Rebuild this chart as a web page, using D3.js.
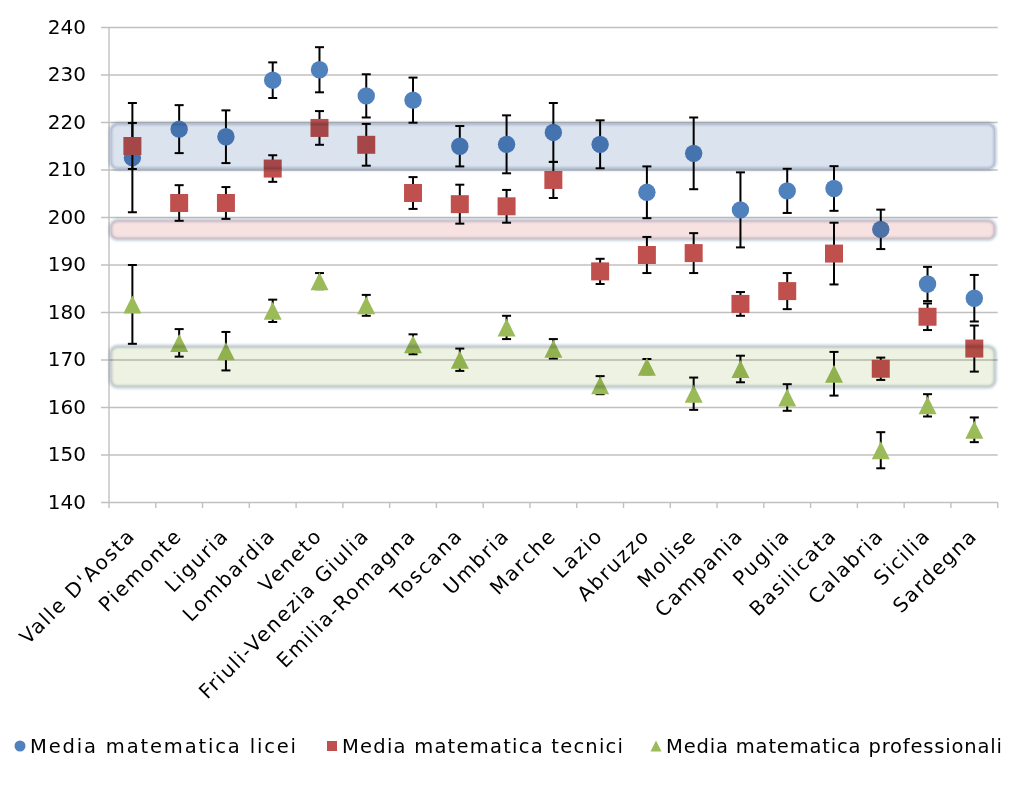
<!DOCTYPE html>
<html><head><meta charset="utf-8">
<script src="https://cdn.jsdelivr.net/npm/d3@7"></script>
<style>
body{margin:0;background:#fff;}
svg{display:block;font-family:"DejaVu Sans",sans-serif;}
</style></head>
<body><svg id="c" width="1024" height="800"></svg>
<script>
const categories = ["Valle D'Aosta","Piemonte","Liguria","Lombardia","Veneto","Friuli-Venezia Giulia","Emilia-Romagna","Toscana","Umbria","Marche","Lazio","Abruzzo","Molise","Campania","Puglia","Basilicata","Calabria","Sicilia","Sardegna"];
const seriesNames = ["Media matematica licei","Media matematica tecnici","Media matematica professionali"];
const licei    = [212.5,218.5,216.9,228.8,231.0,225.5,224.6,214.9,215.3,217.8,215.3,205.2,213.4,201.5,205.5,206.0,197.4,185.9,182.9];
const liceiErr = [11.5,5.05,5.55,3.75,4.75,4.55,4.75,4.25,6.1,6.2,5.05,5.45,7.55,7.9,4.65,4.7,4.15,3.6,4.9];
const tecnici    = [214.95,202.95,202.95,210.2,218.75,215.2,205.05,202.7,202.25,207.8,188.55,192.0,192.4,181.7,184.4,192.3,168.05,179.0,172.3];
const tecniciErr = [4.85,3.75,3.35,2.8,3.55,4.4,3.35,4.1,3.45,3.8,2.65,3.8,4.2,2.5,3.8,6.5,2.35,2.8,4.85];
const prof    = [181.6,173.5,171.75,180.25,186.5,181.4,173.2,169.95,176.75,172.25,164.6,168.5,162.8,168.0,162.0,167.0,150.9,160.35,155.2];
const profErr = [8.3,2.9,4.05,2.35,1.7,2.2,2.1,2.35,2.45,2.05,1.9,1.6,3.4,2.8,2.8,4.6,3.8,2.35,2.6];
const yTicks = [140,150,160,170,180,190,200,210,220,230,240];
const bands = [{lo:210.1,hi:219.7,fill:"#dbe3ee"},{lo:195.3,hi:199.3,fill:"#f7e1e1"},{lo:164.2,hi:172.8,fill:"#eef2e2"}];
const colors = ["#4f81bd","#c0504d","#9bbb59"];

const svg = d3.select("#c");
const L=109, R=997.7, T=27, B=502;
const x = d3.scaleBand().domain(categories).range([L,R]);
const y = d3.scaleLinear().domain([140,240]).range([B,T]);

// gridlines + y labels
const ya = svg.append("g").attr("transform",`translate(${L},0)`)
  .call(d3.axisLeft(y).tickValues(yTicks).tickSize(-(R-L)).tickSizeOuter(0).tickPadding(23));
ya.select(".domain").remove();
ya.selectAll(".tick line").attr("stroke","#c0c0c0").attr("stroke-width",1.4).attr("x1",-8);
ya.selectAll(".tick text").attr("font-size",20).attr("fill","#000").attr("font-family","DejaVu Sans");
// vertical axis line
svg.append("line").attr("x1",L).attr("x2",L).attr("y1",T).attr("y2",B).attr("stroke","#c0c0c0").attr("stroke-width",1.4);
// category tick marks
const xa = svg.append("g").attr("transform",`translate(0,${B})`);
const bounds = categories.map(c=>x(c)).concat([R]);
xa.selectAll("line").data(bounds).join("line")
  .attr("x1",d=>d).attr("x2",d=>d).attr("y1",0).attr("y2",6).attr("stroke","#c0c0c0").attr("stroke-width",1.4);
xa.selectAll("text").data(categories).join("text")
  .attr("transform",d=>`translate(${x(d)+x.bandwidth()/2+4},35) rotate(-45)`)
  .attr("text-anchor","end").attr("font-size",20).attr("letter-spacing",1.7).attr("fill","#000").text(d=>d);

// series
const half = x.bandwidth()/2;
const series = [
  {v:licei,e:liceiErr,shape:"circle"},
  {v:tecnici,e:tecniciErr,shape:"square"},
  {v:prof,e:profErr,shape:"triangle"}
];
function markerPath(shape, s){
  if(shape==="circle") return `M${-s},0A${s},${s} 0 1,0 ${s},0A${s},${s} 0 1,0 ${-s},0Z`;
  if(shape==="square") return `M${-s},${-s}H${s}V${s}H${-s}Z`;
  return `M0,${-s}L${s},${s}L${-s},${s}Z`;
}
const sizes = {circle:8.7, square:9, triangle:9};
series.forEach((sr,i)=>{
  const g = svg.append("g");
  const data = categories.map((c,j)=>({c,v:sr.v[j],e:sr.e[j]}));
  const eg = g.append("g").attr("stroke","#000").attr("stroke-width",2);
  eg.selectAll("line.v").data(data).join("line").attr("class","v")
    .attr("x1",d=>x(d.c)+half).attr("x2",d=>x(d.c)+half)
    .attr("y1",d=>y(d.v+d.e)).attr("y2",d=>y(d.v-d.e));
  eg.selectAll("line.t").data(data).join("line").attr("class","t")
    .attr("x1",d=>x(d.c)+half-4.5).attr("x2",d=>x(d.c)+half+4.5)
    .attr("y1",d=>y(d.v+d.e)).attr("y2",d=>y(d.v+d.e));
  eg.selectAll("line.b").data(data).join("line").attr("class","b")
    .attr("x1",d=>x(d.c)+half-4.5).attr("x2",d=>x(d.c)+half+4.5)
    .attr("y1",d=>y(d.v-d.e)).attr("y2",d=>y(d.v-d.e));
  g.selectAll("path.m").data(data).join("path").attr("class","m")
    .attr("transform",d=>`translate(${x(d.c)+half},${y(d.v)})`)
    .attr("d",markerPath(sr.shape,sizes[sr.shape])).attr("fill",colors[i]);
});

// bands (multiply over)
const defs = svg.append("defs");
const f = defs.append("filter").attr("id","glow").attr("x","-5%").attr("y","-50%").attr("width","110%").attr("height","200%");
f.append("feGaussianBlur").attr("stdDeviation",1.3);
const bg = svg.append("g").style("mix-blend-mode","multiply");
bands.forEach(b=>{
  bg.append("rect").attr("x",L+1.5).attr("width",R-L-4).attr("y",y(b.hi)).attr("height",y(b.lo)-y(b.hi))
    .attr("rx",7).attr("fill","none").attr("stroke","#c9d1de").attr("stroke-width",3.5).attr("filter","url(#glow)")
    .style("mix-blend-mode","multiply");
  bg.append("rect").attr("x",L+1.5).attr("width",R-L-4).attr("y",y(b.hi)).attr("height",y(b.lo)-y(b.hi))
    .attr("rx",7).attr("fill",b.fill).style("mix-blend-mode","multiply");
});

// legend
const lg = svg.append("g").attr("transform","translate(0,746)");
const legendX = [20,332,656];
const legendW = [266,281,336];
const legendShapes = ["circle","square","triangle"];
const legendSizes = {circle:5.5,square:5,triangle:5.5};
seriesNames.forEach((n,i)=>{
  lg.append("path").attr("transform",`translate(${legendX[i]},0)`)
    .attr("d",markerPath(legendShapes[i],legendSizes[legendShapes[i]])).attr("fill",colors[i]);
  lg.append("text").attr("x",legendX[i]+10).attr("y",7).attr("font-size",19.5)
    .attr("textLength",legendW[i]).attr("lengthAdjust","spacing").attr("fill","#000").text(n);
});
</script></body></html>
